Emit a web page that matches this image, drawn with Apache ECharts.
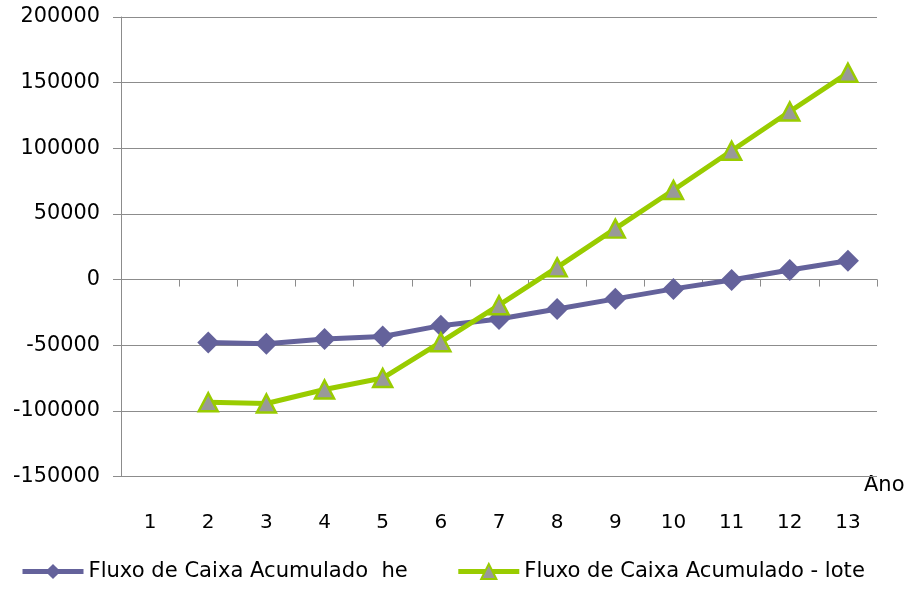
<!DOCTYPE html>
<html>
<head>
<meta charset="utf-8">
<script src="https://cdn.jsdelivr.net/npm/echarts@6/dist/echarts.min.js"></script>
<style>
html,body{margin:0;padding:0;background:#fff;}
#chart{width:913px;height:591px;}
</style>
</head>
<body>
<div id="chart"></div>
<script>
const categories = ['1','2','3','4','5','6','7','8','9','10','11','12','13'];
const seriesHeName = 'Fluxo de Caixa Acumulado  he';
const seriesLoteName = 'Fluxo de Caixa Acumulado - lote';
const heValues = [null, -48000, -48800, -45300, -43300, -35100, -30000, -22400, -14700, -7100, -300, 7300, 14400];
const loteValues = [null, -93500, -94400, -83700, -75000, -47700, -19500, 9300, 38800, 68200, 98100, 128000, 157500];
const yMin = -150000, yMax = 200000, yStep = 50000;
const xAxisTitle = 'Ano';

const FONT = 'DejaVu Sans';
const HE_COLOR = '#64629b';
const LOTE_COLOR = '#99cc00';
const chart = echarts.init(document.getElementById('chart'), null, {renderer: 'canvas'});
const option = {
  animation: false,
  backgroundColor: '#ffffff',
  textStyle: {fontFamily: FONT},
  grid: {left: 121, right: 36, top: 17, bottom: 114.5, containLabel: false},
  xAxis: [
    {
      type: 'category',
      data: categories,
      boundaryGap: true,
      axisLine: {show: true, onZero: true, lineStyle: {color: '#8c8c8c', width: 1}},
      axisTick: {show: true, inside: false, length: 7, alignWithLabel: false, lineStyle: {color: '#8c8c8c'}},
      axisLabel: {show: false},
      splitLine: {show: false}
    },
    {
      type: 'category',
      data: categories,
      position: 'bottom',
      boundaryGap: true,
      axisLine: {show: false, onZero: false},
      axisTick: {show: false},
      axisLabel: {show: true, margin: 36, fontSize: 20, color: '#000', fontFamily: FONT},
      splitLine: {show: false}
    }
  ],
  yAxis: {
    type: 'value',
    min: yMin, max: yMax, interval: yStep,
    axisLine: {show: true, lineStyle: {color: '#8c8c8c', width: 1}},
    axisTick: {show: true, length: 8, lineStyle: {color: '#8c8c8c'}},
    axisLabel: {margin: 21, fontSize: 20.8, color: '#000', fontFamily: FONT,
      formatter: function (v) { return String(v); }},
    splitLine: {show: true, lineStyle: {color: '#8c8c8c', width: 1}}
  },
  legend: {
    left: 20, top: 561, padding: 0,
    itemWidth: 61, itemHeight: 19, itemGap: 48,
    textStyle: {fontSize: 21.1, color: '#000', fontFamily: FONT},
    data: [
      {name: seriesHeName, lineStyle: {width: 5, color: HE_COLOR}},
      {name: seriesLoteName, lineStyle: {width: 5, color: LOTE_COLOR}}
    ]
  },
  graphic: [{
    type: 'text', left: 864, top: 475,
    style: {text: xAxisTitle, fontSize: 21, fontFamily: FONT, fill: '#000'}
  }],
  series: [
    {
      name: seriesHeName, type: 'line', xAxisIndex: 0,
      data: heValues,
      symbol: 'diamond', symbolSize: 22,
      lineStyle: {color: HE_COLOR, width: 5},
      itemStyle: {color: HE_COLOR, borderColor: HE_COLOR, borderWidth: 0},
      connectNulls: false
    },
    {
      name: seriesLoteName, type: 'line', xAxisIndex: 0,
      data: loteValues,
      symbol: 'triangle', symbolSize: [19, 18],
      lineStyle: {color: LOTE_COLOR, width: 5},
      itemStyle: {color: '#999999', borderColor: LOTE_COLOR, borderWidth: 2.5},
      connectNulls: false
    }
  ]
};
chart.setOption(option);
</script>
</body>
</html>
